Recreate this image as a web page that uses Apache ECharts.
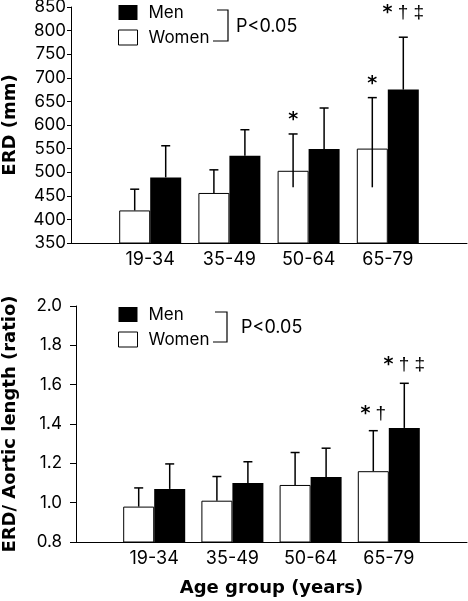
<!DOCTYPE html>
<html>
<head>
<meta charset="utf-8">
<script src="https://cdn.jsdelivr.net/npm/echarts@6/dist/echarts.min.js"></script>
<style>
  html, body { margin: 0; padding: 0; background: #fff; }
  #chart { width: 468px; height: 601px; }
</style>
</head>
<body>
<div id="chart"></div>
<script>
// ---- data ----
const categories = ['19-34', '35-49', '50-64', '65-79'];

// Top panel: ERD (mm)
const erdWomen      = [419, 456, 503, 550];
const erdWomenHigh  = [464, 505, 581, 658];
const erdWomenLow   = [419, 456, 468, 468];
const erdMen        = [489, 535, 549, 675];
const erdMenHigh    = [556, 590, 636, 786];
const erdMenLow     = [489, 535, 549, 675];
const erdWomenMarks = ['', '', '*', '*'];
const erdMenMarks   = ['', '', '', '* \u2020 \u2021'];
const erdAxis = { min: 350, max: 850, interval: 50 };

// Bottom panel: ERD / aortic length (ratio)
const ratioWomen      = [0.98, 1.01, 1.09, 1.16];
const ratioWomenHigh  = [1.075, 1.133, 1.255, 1.366];
const ratioWomenLow   = [0.98, 1.01, 1.09, 1.16];
const ratioMen        = [1.07, 1.10, 1.13, 1.38];
const ratioMenHigh    = [1.197, 1.208, 1.277, 1.607];
const ratioMenLow     = [1.07, 1.10, 1.13, 1.38];
const ratioWomenMarks = ['', '', '', '* \u2020'];
const ratioMenMarks   = ['', '', '', '* \u2020 \u2021'];
const ratioAxis = { min: 0.8, max: 2.0, interval: 0.2 };

// ---- styling ----
const FONT = 'Inter, "Liberation Sans", Arial, sans-serif';
const SANS = '"Liberation Sans", Arial, sans-serif';
const TITLE_FONT = '"DejaVu Sans", Verdana, sans-serif';
const BAR_W = 31;
const MARK_SIZE = 19;
const padCats = [''].concat(categories, ['']);
const pad = arr => ['-'].concat(arr, ['-']);

function errSeries(gridIdx, low, high, marks, dx, markGap) {
  return {
    type: 'custom',
    xAxisIndex: gridIdx, yAxisIndex: gridIdx,
    z: 5,
    silent: true,
    clip: false,
    data: categories.map((c, i) => [i + 1, low[i], high[i]]),
    renderItem: function (params, api) {
      const idx = api.value(0);
      const lo = api.coord([idx, api.value(1)]);
      const hi = api.coord([idx, api.value(2)]);
      const x = hi[0] + dx;
      const children = [
        { type: 'line', shape: { x1: x, y1: lo[1], x2: x, y2: hi[1] },
          style: { stroke: '#000', lineWidth: 1.5 } },
        { type: 'line', shape: { x1: x - 4.5, y1: hi[1], x2: x + 4.5, y2: hi[1] },
          style: { stroke: '#000', lineWidth: 1.5 } }
      ];
      const t = marks[params.dataIndex];
      if (t) {
        const parts = t.split(' ').map(p => p === '*' ? '{a|*}' : '{d|' + p + '}');
        children.push({ type: 'text', style: {
          text: parts.join('{d| }'), x: x, y: hi[1] - markGap, align: 'center', verticalAlign: 'bottom',
          fontSize: MARK_SIZE, fontFamily: SANS, fill: '#000',
          rich: {
            a: { fontSize: MARK_SIZE, fontWeight: 'bold', fontFamily: TITLE_FONT, fill: '#000' },
            d: { fontSize: MARK_SIZE, fontFamily: SANS, fill: '#000' }
          }
        }});
      }
      return { type: 'group', children: children };
    }
  };
}

function barSeries(gridIdx, name, values, isMen) {
  return {
    type: 'bar', name: name,
    xAxisIndex: gridIdx, yAxisIndex: gridIdx,
    data: pad(values),
    barWidth: BAR_W, barGap: '0%',
    itemStyle: isMen ? { color: '#000' } : { color: '#fff', borderColor: '#000', borderWidth: 1 },
    emphasis: { disabled: true }
  };
}

function legend(top) {
  return {
    orient: 'vertical', left: 113, top: top,
    itemWidth: 19, itemHeight: 15, itemGap: 8,
    selectedMode: false,
    textStyle: { fontSize: 17, fontFamily: FONT, color: '#000', padding: [0, 0, 0, 6] },
    data: [
      { name: 'Men', icon: 'rect', itemStyle: { color: '#000', borderWidth: 0 } },
      { name: 'Women', icon: 'rect', itemStyle: { color: '#fff', borderColor: '#000', borderWidth: 1 } }
    ]
  };
}

const axisLabel = { fontSize: 17, fontFamily: FONT, color: '#000' };
const titleStyle = { fontSize: 18, fontWeight: 'bold', fontFamily: TITLE_FONT, color: '#000' };

const chart = echarts.init(document.getElementById('chart'), null, { renderer: 'canvas' });
chart.setOption({
  animation: false,
  backgroundColor: '#fff',
  grid: [
    { left: 71, right: 1, top: 7, height: 236, containLabel: false, outerBoundsMode: 'none' },
    { left: 76, right: 1, top: 306, height: 236, containLabel: false, outerBoundsMode: 'none' }
  ],
  legend: [legend(-1), legend(301)],
  xAxis: [0, 1].map(g => ({
    type: 'category', gridIndex: g, data: padCats, boundaryGap: false,
    axisLine: { lineStyle: { color: '#000', width: 1 } },
    axisTick: { show: false },
    axisLabel: Object.assign({}, axisLabel, { margin: 8, interval: 0, fontSize: 18 }),
    splitLine: { show: false },
    name: g === 1 ? 'Age group (years)' : '',
    nameLocation: 'middle', nameGap: 37,
    nameTextStyle: titleStyle
  })),
  yAxis: [
    {
      type: 'value', gridIndex: 0, min: erdAxis.min, max: erdAxis.max, interval: erdAxis.interval,
      axisLine: { show: true, lineStyle: { color: '#000', width: 1 } },
      axisTick: { show: true, length: 4, lineStyle: { color: '#000' } },
      axisLabel: Object.assign({ margin: 5 }, axisLabel),
      splitLine: { show: false },
      name: 'ERD (mm)', nameLocation: 'middle', nameGap: 52, nameRotate: 90,
      nameTextStyle: titleStyle
    },
    {
      type: 'value', gridIndex: 1, min: ratioAxis.min, max: ratioAxis.max, interval: ratioAxis.interval,
      axisLine: { show: true, lineStyle: { color: '#000', width: 1 } },
      axisTick: { show: true, length: 6, lineStyle: { color: '#000' } },
      axisLabel: Object.assign({ margin: 14, formatter: v => v.toFixed(1) }, axisLabel),
      splitLine: { show: false },
      name: 'ERD/ Aortic length (ratio)', nameLocation: 'middle', nameGap: 57, nameRotate: 90,
      nameTextStyle: titleStyle
    }
  ],
  series: [
    barSeries(0, 'Women', erdWomen, false),
    barSeries(0, 'Men', erdMen, true),
    errSeries(0, erdWomenLow, erdWomenHigh, erdWomenMarks, -BAR_W / 2, 4),
    errSeries(0, erdMenLow, erdMenHigh, erdMenMarks, BAR_W / 2, 15),
    barSeries(1, 'Women', ratioWomen, false),
    barSeries(1, 'Men', ratioMen, true),
    errSeries(1, ratioWomenLow, ratioWomenHigh, ratioWomenMarks, -BAR_W / 2, 7),
    errSeries(1, ratioMenLow, ratioMenHigh, ratioMenMarks, BAR_W / 2, 9)
  ],
  graphic: [
    { type: 'polyline', shape: { points: [[217, 10], [228, 10], [228, 41], [213, 41]] },
      style: { stroke: '#000', lineWidth: 1.2, fill: null } },
    { type: 'text', left: 236, top: 18, style: { text: 'P<0.05', fontSize: 18, fontFamily: FONT, fill: '#000' } },
    { type: 'polyline', shape: { points: [[215, 312], [227, 312], [227, 342], [213, 342]] },
      style: { stroke: '#000', lineWidth: 1.2, fill: null } },
    { type: 'text', left: 241, top: 319, style: { text: 'P<0.05', fontSize: 18, fontFamily: FONT, fill: '#000' } }
  ]
});
</script>
</body>
</html>
